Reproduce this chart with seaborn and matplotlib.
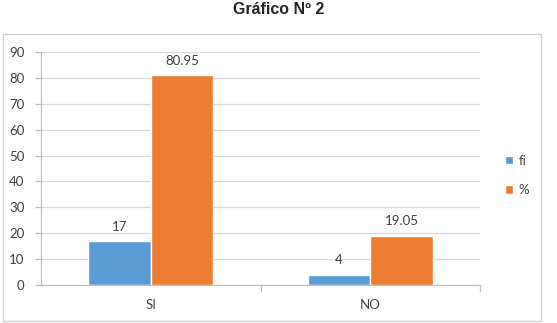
import matplotlib
matplotlib.use("Agg")
import matplotlib.pyplot as plt
import seaborn as sns
import pandas as pd
from matplotlib.patches import Rectangle

categories = ["SI", "NO"]
fi_values = [17, 4]
pct_values = [80.95, 19.05]
series_names = ["fi", "%"]
fi_labels = ["17", "4"]
pct_labels = ["80.95", "19.05"]
yticks = [0, 10, 20, 30, 40, 50, 60, 70, 80, 90]

df = pd.DataFrame({
    "cat": categories * 2,
    "val": fi_values + pct_values,
    "serie": [series_names[0]] * 2 + [series_names[1]] * 2,
})

sns.set_theme(style="white")
plt.rcParams["font.family"] = ["Lato", "DejaVu Sans"]

fig = plt.figure(figsize=(5.57, 3.23), dpi=100)
ax = fig.add_axes([41 / 557, 1 - 285 / 323, (480 - 41) / 557, (285 - 52) / 323])

palette = {"fi": "#5b9bd5", "%": "#ed7d31"}
sns.barplot(data=df, x="cat", y="val", hue="serie", palette=palette,
            width=0.57, saturation=1, ax=ax, legend=True)

ax.set_ylim(0, 90)
ax.set_yticks(yticks)
ax.set_xlim(-0.5, 1.5)
ax.grid(axis="y", color="#d9d9d9", linewidth=0.9)
ax.set_axisbelow(True)
for s in ["top", "right"]:
    ax.spines[s].set_visible(False)
for s in ["bottom", "left"]:
    ax.spines[s].set_color("#bfbfbf")
    ax.spines[s].set_linewidth(0.9)
ax.tick_params(axis="y", length=4, width=0.9, color="#bfbfbf", labelsize=9.5,
               labelcolor="#404040", pad=8, left=True)
ax.tick_params(axis="x", length=0, labelsize=9.5, colors="#404040", pad=10)
ax.set_xlabel("")
ax.set_ylabel("")

# category separator ticks
for xv in [0.5, 1.5]:
    ax.plot([xv, xv], [0, -2.3], color="#bfbfbf", lw=0.9, clip_on=False)

for cont, labs in zip(ax.containers, [fi_labels, pct_labels]):
    ax.bar_label(cont, labels=labs, padding=6, fontsize=9.5, color="#404040")

leg = ax.legend(loc="center left", bbox_to_anchor=(1.03, 0.47), frameon=False,
                fontsize=9.5, handlelength=0.6, handleheight=0.6, handletextpad=0.4,
                labelspacing=1.3)
for t in leg.get_texts():
    t.set_color("#404040")

fig.patches.append(Rectangle((3 / 557, 1 - 321 / 323), 538 / 557, 287 / 323,
                             transform=fig.transFigure, fill=False,
                             edgecolor="#d0d0d0", linewidth=1.0))

fig.text(0.5, 1 - 10 / 323, "Gráfico Nº 2", ha="center", va="center",
         fontsize=11.5, fontweight="bold", family=["Liberation Sans", "DejaVu Sans"])

fig.savefig("out.png", dpi=100)
